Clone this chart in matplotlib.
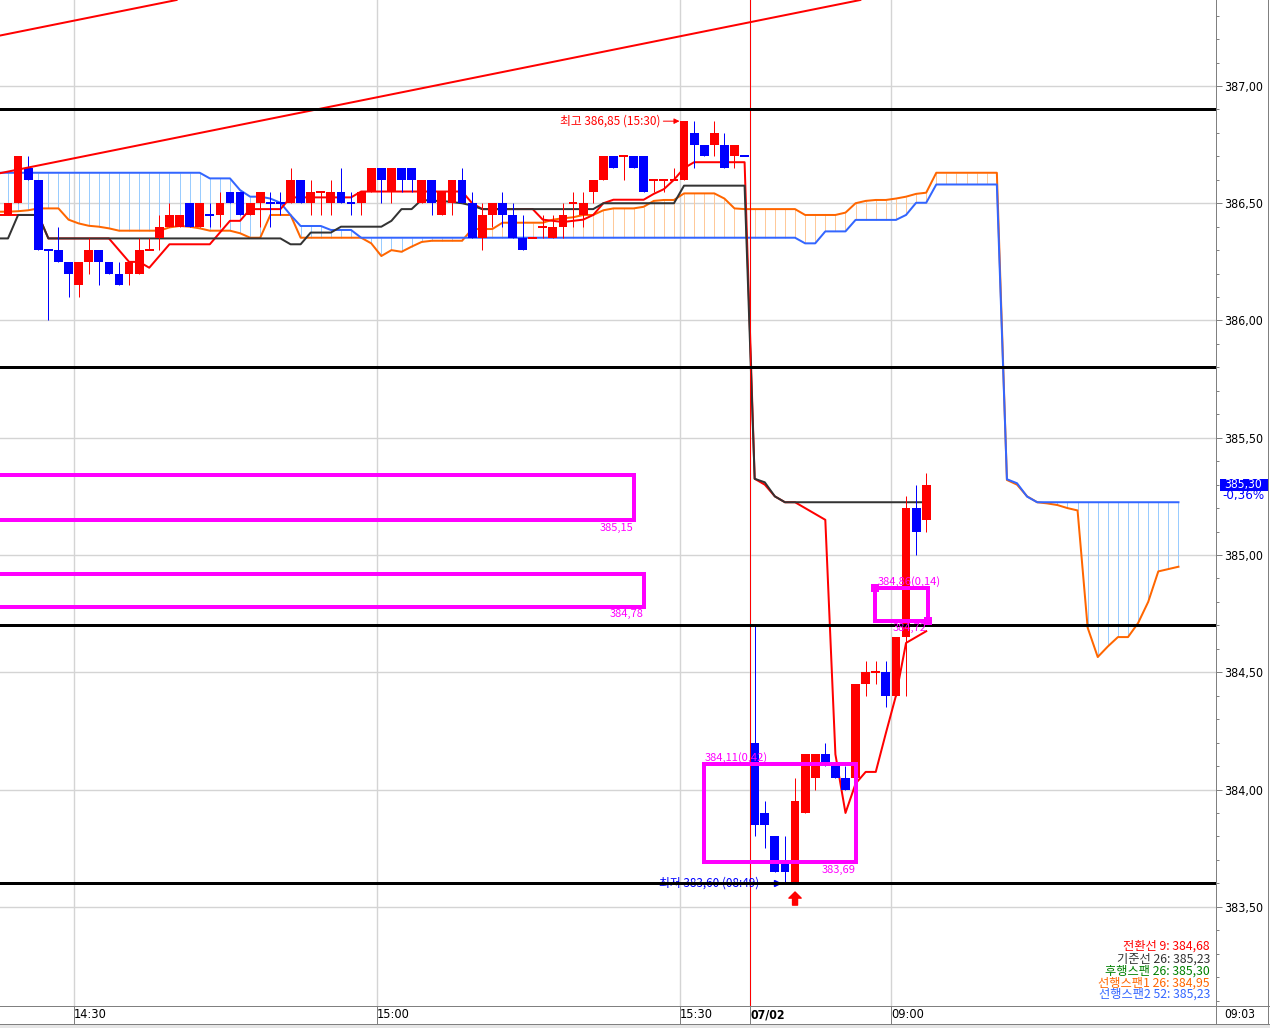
import os
import matplotlib
matplotlib.use("Agg")
import matplotlib.pyplot as plt
import matplotlib.ticker as mticker
from matplotlib import font_manager as fm
from matplotlib.font_manager import FontProperties
from matplotlib.patches import Rectangle
from matplotlib.lines import Line2D
from matplotlib.transforms import blended_transform_factory

plt.rcParams['font.family'] = ['Noto Sans CJK KR', 'DejaVu Sans']

# ---------------- data (1-minute bars, index 0 = first fully visible bar) ----------------
opens = [386.45, 386.50, 386.65, 386.60, 386.30, 386.30, 386.25, 386.15, 386.25, 386.30,
         386.25, 386.20, 386.20, 386.20, 386.30, 386.35, 386.40, 386.40, 386.50, 386.40,
         386.45, 386.45, 386.55, 386.55, 386.45, 386.50, 386.50, 386.50, 386.50, 386.60,
         386.50, 386.55, 386.50, 386.55, 386.50, 386.50, 386.55, 386.65, 386.55, 386.65,
         386.65, 386.50, 386.60, 386.45, 386.50, 386.60, 386.50, 386.35, 386.45, 386.50,
         386.45, 386.35, 386.35, 386.40, 386.35, 386.40, 386.50, 386.45, 386.55, 386.60,
         386.70, 386.70, 386.70, 386.70, 386.60, 386.60, 386.60, 386.60, 386.80, 386.75,
         386.75, 386.75, 386.70, 386.70, 384.20, 383.90, 383.80, 383.70, 383.60, 383.90,
         384.05, 384.15, 384.10, 384.05, 384.05, 384.45, 384.50, 384.50, 384.40, 384.65,
         385.20, 385.15]
highs = [386.50, 386.70, 386.70, 386.60, 386.30, 386.40, 386.25, 386.25, 386.35, 386.30,
         386.25, 386.25, 386.25, 386.35, 386.35, 386.45, 386.50, 386.45, 386.50, 386.50,
         386.50, 386.55, 386.55, 386.55, 386.50, 386.55, 386.55, 386.55, 386.65, 386.60,
         386.60, 386.55, 386.60, 386.65, 386.55, 386.55, 386.65, 386.65, 386.65, 386.65,
         386.65, 386.60, 386.60, 386.55, 386.60, 386.65, 386.55, 386.50, 386.50, 386.55,
         386.50, 386.45, 386.35, 386.45, 386.45, 386.50, 386.55, 386.55, 386.60, 386.70,
         386.70, 386.70, 386.70, 386.70, 386.60, 386.60, 386.65, 386.85, 386.85, 386.75,
         386.85, 386.80, 386.75, 386.70, 384.70, 383.95, 383.80, 383.80, 384.05, 384.15,
         384.15, 384.20, 384.10, 384.10, 384.45, 384.55, 384.55, 384.55, 384.65, 385.25,
         385.30, 385.35]
lows = [386.45, 386.50, 386.60, 386.30, 386.00, 386.25, 386.10, 386.10, 386.20, 386.15,
        386.20, 386.15, 386.15, 386.20, 386.30, 386.30, 386.40, 386.40, 386.40, 386.40,
        386.40, 386.40, 386.50, 386.45, 386.45, 386.40, 386.40, 386.45, 386.50, 386.50,
        386.45, 386.45, 386.45, 386.50, 386.45, 386.45, 386.55, 386.50, 386.50, 386.55,
        386.55, 386.50, 386.45, 386.45, 386.45, 386.50, 386.35, 386.30, 386.40, 386.40,
        386.35, 386.30, 386.35, 386.35, 386.35, 386.35, 386.40, 386.40, 386.50, 386.60,
        386.65, 386.60, 386.65, 386.55, 386.55, 386.55, 386.60, 386.60, 386.65, 386.70,
        386.70, 386.65, 386.65, 386.70, 383.80, 383.75, 383.65, 383.60, 383.60, 383.90,
        384.00, 384.10, 384.05, 384.00, 384.05, 384.40, 384.45, 384.35, 384.40, 384.40,
        385.00, 385.10]
closes = [386.50, 386.70, 386.60, 386.30, 386.30, 386.25, 386.20, 386.25, 386.30, 386.25,
          386.20, 386.15, 386.25, 386.30, 386.30, 386.40, 386.45, 386.45, 386.40, 386.50,
          386.45, 386.50, 386.50, 386.45, 386.50, 386.55, 386.50, 386.50, 386.60, 386.50,
          386.55, 386.55, 386.55, 386.50, 386.50, 386.55, 386.65, 386.60, 386.65, 386.60,
          386.60, 386.60, 386.50, 386.55, 386.60, 386.50, 386.35, 386.45, 386.50, 386.45,
          386.35, 386.30, 386.35, 386.40, 386.40, 386.45, 386.50, 386.50, 386.60, 386.70,
          386.65, 386.70, 386.65, 386.55, 386.60, 386.60, 386.60, 386.85, 386.75, 386.70,
          386.80, 386.65, 386.75, 386.70, 383.85, 383.85, 383.65, 383.65, 383.95, 384.15,
          384.15, 384.10, 384.05, 384.00, 384.45, 384.50, 384.50, 384.40, 384.65, 385.20,
          385.10, 385.30]

# indicator lines start one bar earlier (bar -1, partly off the left edge)
LINE_FIRST = -1
tenkan = [386.45,
          386.45, 386.45, 386.45, 386.45, 386.35, 386.35, 386.35, 386.35, 386.35, 386.35,
          386.35, 386.30, 386.25, 386.25, 386.225, 386.275, 386.325, 386.325, 386.325, 386.325,
          386.325, 386.375, 386.425, 386.425, 386.475, 386.475, 386.475, 386.475, 386.525, 386.525,
          386.525, 386.525, 386.525, 386.525, 386.525, 386.55, 386.55, 386.55, 386.55, 386.55,
          386.55, 386.55, 386.55, 386.55, 386.55, 386.55, 386.50, 386.475, 386.475, 386.475,
          386.475, 386.475, 386.475, 386.43, 386.425, 386.42, 386.425, 386.43, 386.45, 386.50,
          386.515, 386.515, 386.515, 386.515, 386.54, 386.56, 386.60, 386.65, 386.675, 386.675,
          386.675, 386.675, 386.675, 386.675, 385.325, 385.30, 385.25, 385.225, 385.225, 385.20,
          385.175, 385.15, 384.15, 383.90, 384.025, 384.075, 384.075, 384.24, 384.40, 384.625,
          384.65, 384.675]
kijun = [386.35,
         386.35, 386.45, 386.45, 386.45, 386.35, 386.35, 386.35, 386.35, 386.35, 386.35,
         386.35, 386.35, 386.35, 386.35, 386.35, 386.35, 386.35, 386.35, 386.35, 386.35,
         386.35, 386.35, 386.35, 386.35, 386.35, 386.35, 386.35, 386.35, 386.325, 386.325,
         386.375, 386.375, 386.375, 386.40, 386.40, 386.40, 386.40, 386.40, 386.425, 386.475,
         386.475, 386.515, 386.51, 386.51, 386.505, 386.50, 386.49, 386.475, 386.475, 386.475,
         386.475, 386.475, 386.475, 386.475, 386.475, 386.475, 386.475, 386.475, 386.475, 386.50,
         386.50, 386.50, 386.50, 386.50, 386.50, 386.50, 386.50, 386.575, 386.575, 386.575,
         386.575, 386.575, 386.575, 386.575, 385.325, 385.31, 385.25, 385.225, 385.225, 385.225,
         385.225, 385.225, 385.225, 385.225, 385.225, 385.225, 385.225, 385.225, 385.225, 385.225,
         385.225, 385.225]
span1 = [386.464,
         386.464, 386.466, 386.47, 386.478, 386.478, 386.478, 386.43, 386.414, 386.404, 386.40,
         386.393, 386.383, 386.383, 386.383, 386.383, 386.383, 386.397, 386.403, 386.40, 386.393,
         386.383, 386.383, 386.383, 386.372, 386.353, 386.353, 386.45, 386.45, 386.45, 386.353,
         386.353, 386.353, 386.353, 386.353, 386.353, 386.353, 386.329, 386.275, 386.30, 386.293,
         386.315, 386.335, 386.34, 386.34, 386.34, 386.34, 386.39, 386.39, 386.39, 386.417,
         386.417, 386.417, 386.417, 386.417, 386.43, 386.436, 386.44, 386.45, 386.45, 386.47,
         386.478, 386.478, 386.478, 386.485, 386.51, 386.514, 386.514, 386.542, 386.542, 386.542,
         386.542, 386.52, 386.478, 386.475, 386.475, 386.475, 386.475, 386.475, 386.475, 386.45,
         386.45, 386.45, 386.45, 386.46, 386.50, 386.51, 386.514, 386.514, 386.52, 386.528,
         386.54, 386.545, 386.63, 386.63, 386.63, 386.63, 386.63, 386.63, 386.63, 385.32,
         385.30, 385.25, 385.225, 385.22, 385.213, 385.20, 385.19, 384.69, 384.565, 384.61,
         384.65, 384.65, 384.71, 384.80, 384.93, 384.94, 384.95]
span2 = [386.63,
         386.63, 386.63, 386.63, 386.63, 386.63, 386.63, 386.63, 386.63, 386.63, 386.63,
         386.63, 386.63, 386.63, 386.63, 386.63, 386.63, 386.63, 386.63, 386.63, 386.63,
         386.606, 386.606, 386.606, 386.556, 386.528, 386.528, 386.52, 386.502, 386.45, 386.403,
         386.403, 386.403, 386.386, 386.386, 386.386, 386.353, 386.353, 386.353, 386.353, 386.353,
         386.353, 386.353, 386.353, 386.353, 386.353, 386.353, 386.353, 386.353, 386.353, 386.353,
         386.353, 386.353, 386.353, 386.353, 386.353, 386.353, 386.353, 386.353, 386.353, 386.353,
         386.353, 386.353, 386.353, 386.353, 386.353, 386.353, 386.353, 386.353, 386.353, 386.353,
         386.353, 386.353, 386.353, 386.353, 386.353, 386.353, 386.353, 386.353, 386.353, 386.329,
         386.329, 386.38, 386.38, 386.38, 386.429, 386.429, 386.429, 386.429, 386.429, 386.45,
         386.502, 386.502, 386.58, 386.58, 386.58, 386.58, 386.58, 386.58, 386.58, 385.323,
         385.306, 385.249, 385.225, 385.225, 385.225, 385.225, 385.225, 385.225, 385.225, 385.225,
         385.225, 385.225, 385.225, 385.225, 385.225, 385.225, 385.225]

time_tick_bars = [7, 37, 67, 74, 88]
time_tick_labels = ['14:30', '15:00', '15:30', '07/02', '09:00']
price_ticks = [383.5, 384.0, 384.5, 385.0, 385.5, 386.0, 386.5, 387.0]
level_lines = [386.90, 385.80, 384.70, 383.60]
trend_lower = [(0, 386.635), (80, 387.328)]
trend_upper = [(0, 387.222), (80, 387.915)]
# zones: (left bar, right bar, low price, high price)
zones = [(-3.0, 62.0, 385.15, 385.34), (-3.0, 63.0, 384.78, 384.92),
         (69.0, 84.05, 383.69, 384.11), (85.9, 91.2, 384.72, 384.86)]
zone_labels = ['385,15', '384,78', '384,11(0,42)', '383,69', '384,86(0,14)', '384,72']
legend_items = [('전환선 9: 384,68', '#FF0000'), ('기준선 26: 385,23', '#333333'),
                ('후행스팬 26: 385,30', '#008000'), ('선행스팬1 26: 384,95', '#FF6600'),
                ('선행스팬2 52: 385,23', '#3366FF')]
high_bar, high_val, high_text = 67, 386.85, '최고 386,85 (15:30)'
low_bar, low_val, low_text = 77, 383.60, '최저 383,60 (08:49)'
signal_bar = 78
last_price, last_price_text, last_change_text, last_time_text = 385.30, '385,30', '-0,36%', '09:03'
day_break_bar = 74

# ---------------- figure ----------------
W, H = 1270, 1028
PX = 0.72  # points per pixel at dpi 100
fig = plt.figure(figsize=(W / 100, H / 100), dpi=100)
fig.patch.set_facecolor('white')
renderer = fig.canvas.get_renderer()


def find_narrow_font():
    files = sorted(set(f.fname for f in fm.fontManager.ttflist))
    prefs = ['liberationsansnarrow-regular', 'dejavusanscondensed.ttf', 'robotocondensed-regular',
             'opensans-condensedregular', 'opensans_condensed-regular', 'notosans-condensed.ttf',
             'notosanscondensed-regular', 'liberationsansnarrow.ttf']
    for p in prefs:
        for f in files:
            if p in os.path.basename(f).lower():
                return f
    bad = ['bold', 'italic', 'oblique', 'light', 'semi', 'extra', 'black', 'medium', 'thin', 'ultra']
    for f in files:
        b = os.path.basename(f).lower()
        if ('condensed' in b or 'narrow' in b) and not any(k in b for k in bad):
            return f
    return None


_narrow = find_narrow_font()


def bold_variant(path):
    if not path:
        return None
    d, b = os.path.split(path)
    for cand in [b.replace('-Regular', '-Bold'), b.replace('.ttf', '-Bold.ttf'),
                 b.replace('Regular', 'Bold')]:
        p = os.path.join(d, cand)
        if cand != b and os.path.exists(p):
            return p
    return None


_narrow_bold = bold_variant(_narrow)


def num_font(sample, target_w, max_size=10.5, bold=False):
    """Font for the numeric axis texts, sized so the sample is about target_w pixels wide."""
    if bold and _narrow_bold:
        fp = FontProperties(fname=_narrow_bold, size=10)
    elif _narrow and not bold:
        fp = FontProperties(fname=_narrow, size=10)
    else:
        fp = FontProperties(family='DejaVu Sans', weight='bold' if bold else 'normal', size=10)
    t = fig.text(0, 0, sample, fontproperties=fp)
    w = t.get_window_extent(renderer).width
    t.remove()
    fp = fp.copy()
    fp.set_size(min(max_size, 10 * target_w / w))
    return fp


fp_y = num_font('387,00', 39)
fp_x = num_font('14:30', 33)
fp_xb = num_font('07/02', 35, bold=True)
fp_tag = num_font('385,30', 38)
fp_pct = num_font('-0,36%', 42)
fp_time = num_font('09:03', 31)

AX_RIGHT, AX_BOTTOM = 1216, 1006
ax = fig.add_axes([0, (H - AX_BOTTOM) / H, AX_RIGHT / W, AX_BOTTOM / H])
ax.set_facecolor('white')
ax.set_xlim(-0.793, 119.72)
ax.set_ylim(383.0768, 387.3667)

RED, BLUE = '#FF0000', '#0000FF'

# grid / ticks
ax.set_axisbelow(True)
fmt = lambda v: f'{v:.2f}'.replace('.', ',')
ax.yaxis.tick_right()
ax.set_yticks(price_ticks, labels=[fmt(v) for v in price_ticks], fontproperties=fp_y)
ax.yaxis.set_minor_locator(mticker.MultipleLocator(0.1))
ax.tick_params(axis='y', which='major', length=6 * PX, width=PX, color='#808080', pad=1.5)
ax.tick_params(axis='y', which='minor', length=3 * PX, width=PX, color='#808080')
xt = [b - 0.45 for b in time_tick_bars]
ax.set_xticks(xt, labels=time_tick_labels, fontproperties=fp_x, ha='left')
ax.tick_params(axis='x', which='major', length=18 * PX, width=PX, color='#808080',
               pad=-18 * PX + 1.5, direction='out')
ax.get_xticklabels()[3].set_fontproperties(fp_xb)
ax.grid(True, which='major', color='#d4d4d4', lw=1.0)
for s in ['top', 'left']:
    ax.spines[s].set_visible(False)
for s in ['right', 'bottom']:
    ax.spines[s].set_color('#808080')
    ax.spines[s].set_linewidth(PX)

# cloud hatch
xs_line = list(range(LINE_FIRST, LINE_FIRST + len(span1)))
cl_x, cl_lo, cl_hi, cl_c = [], [], [], []
for x, a, b in zip(xs_line, span1, span2):
    if abs(a - b) < 1e-9:
        continue
    cl_x.append(x); cl_lo.append(min(a, b)); cl_hi.append(max(a, b))
    cl_c.append('#99CCFF' if b > a else '#FFC999')
ax.vlines(cl_x, cl_lo, cl_hi, colors=cl_c, lw=PX, zorder=1.5)

ax.plot(xs_line, span1, color='#FF6600', lw=2 * PX, zorder=2)
ax.plot(xs_line, span2, color='#3366FF', lw=2 * PX, zorder=2.1)
xs_ind = list(range(LINE_FIRST, LINE_FIRST + len(tenkan)))
ax.plot(xs_ind, tenkan, color='#FF0000', lw=2 * PX, zorder=2.2)
ax.plot(xs_ind, kijun, color='#333333', lw=2 * PX, zorder=2.3)

# candles
prev_up, prev_close = True, None
for i, (o, h, l, c) in enumerate(zip(opens, highs, lows, closes)):
    if c > o:
        up = True
    elif c < o:
        up = False
    elif prev_close is None or c == prev_close:
        up = prev_up
    else:
        up = c > prev_close
    col = RED if up else BLUE
    ax.vlines(i, l, h, color=col, lw=PX, zorder=5)
    if c != o:
        ax.bar(i, abs(c - o), bottom=min(o, c), width=0.87, color=col, lw=0, zorder=6)
    else:
        ax.hlines(c, i - 0.435, i + 0.435, color=col, lw=2 * PX, zorder=6)
    prev_up, prev_close = up, c

# day separator and drawn objects
ax.axvline(day_break_bar - 0.45, color=RED, lw=PX, zorder=7)
ax.axline(trend_lower[0], trend_lower[1], color=RED, lw=2 * PX, zorder=7)
ax.axline(trend_upper[0], trend_upper[1], color=RED, lw=2 * PX, zorder=7)

# low annotation (under the black level line)
ax.text(low_bar - 2.5, low_val, low_text, color=BLUE, fontsize=8.5, ha='right', va='center', zorder=7.5)
ax.plot([low_bar - 0.8], [low_val], marker='>', color=BLUE, markersize=5, lw=0, zorder=7.5)

for lv in level_lines:
    ax.axhline(lv, color='black', lw=3 * PX, zorder=8)

MAG = '#FF00FF'
for (x0, x1, y0, y1) in zones:
    ax.add_patch(Rectangle((x0, y0), x1 - x0, y1 - y0, fill=False, ec=MAG, lw=4 * PX, zorder=9))
# handles of the last (selected) zone
z = zones[3]
hw, hh = 0.8, 0.034
ax.add_patch(Rectangle((z[0] - hw / 2, z[3] - hh / 2), hw, hh, fc=MAG, ec='none', zorder=9))
ax.add_patch(Rectangle((z[1] - hw / 2, z[2] - hh / 2), hw, hh, fc=MAG, ec='none', zorder=9))

lab_kw = dict(color=MAG, fontsize=8, zorder=10)
ax.text(zones[0][1], zones[0][2] - 0.012, zone_labels[0], ha='right', va='top', **lab_kw)
ax.text(zones[1][1], zones[1][2] - 0.012, zone_labels[1], ha='right', va='top', **lab_kw)
ax.text(zones[2][0], zones[2][3] + 0.004, zone_labels[2], ha='left', va='bottom', **lab_kw)
ax.text(zones[2][1], zones[2][2] - 0.012, zone_labels[3], ha='right', va='top', **lab_kw)
ax.text(zones[3][0] + 0.3, zones[3][3] + 0.004, zone_labels[4], ha='left', va='bottom', **lab_kw)
ax.text(zones[3][1] - 0.2, zones[3][2] - 0.008, zone_labels[5], ha='right', va='top', **lab_kw)

# high annotation
ax.text(high_bar - 2.35, high_val, high_text, color=RED, fontsize=8.5, ha='right', va='center', zorder=10)
ax.annotate('', xy=(high_bar - 0.45, high_val), xytext=(high_bar - 2.05, high_val),
            arrowprops=dict(arrowstyle='-|>', color=RED, lw=PX, mutation_scale=8,
                            shrinkA=0, shrinkB=0), zorder=10)
# signal arrow under the low bar
ax.annotate('', xy=(signal_bar, 383.563), xytext=(signal_bar, 383.507),
            arrowprops=dict(arrowstyle='simple,head_length=0.55,head_width=1.1,tail_width=0.45',
                            color=RED, mutation_scale=8, shrinkA=0, shrinkB=0), zorder=10)

# last price tag on the right axis
bt = blended_transform_factory(ax.transAxes, ax.transData)
ax.add_patch(Rectangle((1220 / AX_RIGHT, last_price - 0.025), 48 / AX_RIGHT, 0.05,
                       transform=bt, fc=BLUE, ec='none', clip_on=False, zorder=10))
ax.text(1243 / AX_RIGHT, last_price, last_price_text, transform=bt, color='white',
        fontproperties=fp_tag, ha='center', va='center', clip_on=False, zorder=11)
ax.text(1222 / AX_RIGHT, last_price - 0.047, last_change_text, transform=bt, color=BLUE,
        fontproperties=fp_pct, ha='left', va='center', clip_on=False, zorder=11)

# indicator legend (bottom right)
leg_y = [946, 959, 971.5, 983, 994.5]
for (txt, col), yp in zip(legend_items, leg_y):
    ax.text(1210 / AX_RIGHT, (AX_BOTTOM - yp) / AX_BOTTOM, txt, transform=ax.transAxes,
            color=col, fontsize=8.8, ha='right', va='center', zorder=11)

# frame pieces outside the axes
def fline(x0, y0, x1, y1, c='#808080', lw=PX):
    fig.add_artist(Line2D([x0 / W, x1 / W], [1 - y0 / H, 1 - y1 / H], transform=fig.transFigure,
                          color=c, lw=lw))

fline(AX_RIGHT, AX_BOTTOM, W, AX_BOTTOM)
fline(0, 1024, W, 1024)
fline(AX_RIGHT, AX_BOTTOM, AX_RIGHT, 1024)
fline(1268, 0, 1268, 1024)
fig.add_artist(Rectangle((0, 0), 1, 3 / H, transform=fig.transFigure, fc='#e6e6e6', ec='none'))
fig.text(1240 / W, 1 - 1015 / H, last_time_text, fontproperties=fp_time, ha='center', va='center')

fig.savefig('out.png', dpi=100)
